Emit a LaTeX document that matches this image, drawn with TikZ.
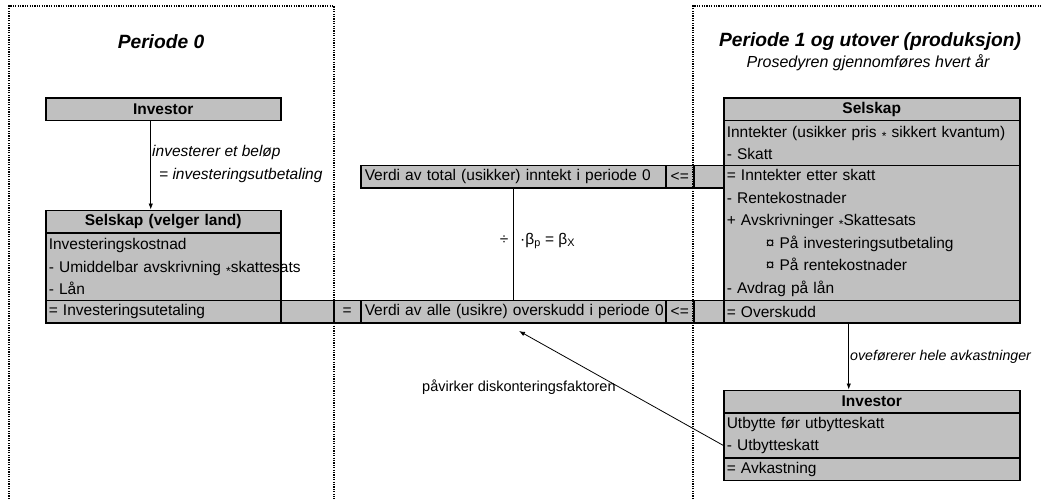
\documentclass[tikz,border=0pt]{standalone}
\usepackage{fontspec}
\setmainfont{Liberation Sans}
\usetikzlibrary{arrows.meta}
\definecolor{boxgray}{HTML}{C0C0C0}
\newcommand{\bodyfont}{\fontsize{15.5}{22.5}\selectfont}
\newcommand{\starop}{\raisebox{-3.2pt}{\fontsize{12}{12}\selectfont *}}

\begin{document}
\begin{tikzpicture}[x=1pt, y=-1pt]

\tikzstyle{every node} = [inner sep=0pt, font=\bodyfont]
\tikzstyle{box} = [draw, fill=boxgray, line width=1.5pt, anchor=north west, inner xsep=3pt, minimum height=22.5pt]
\tikzstyle{lbox} = [box, text width=229pt, align=left]
\tikzstyle{rbox} = [box, text width=290pt, align=left]
\tikzstyle{vbox} = [box, inner xsep=4pt, text width=297pt, align=left]
\tikzstyle{cell} = [box, inner xsep=0pt]
\tikzstyle{head} = [font=\bodyfont\bfseries, align=center]
\tikzstyle{title} = [font=\fontsize{19.2}{23}\selectfont\bfseries\itshape]
\tikzstyle{arr} = [-{Latex[length=6pt,width=4.5pt]}, line width=0.8pt]
\tikzstyle{frame} = [line width=1.2pt, dash pattern=on 1.2pt off 1.2pt]

\useasboundingbox (0,0) rectangle (1041,499);

\node[title] (p0) at (161,42) {Periode 0};
\node[title] (p1) at (870,42) {Periode 1 og utover (produksjon)};
\node[font=\fontsize{16}{19}\selectfont\itshape] (p1sub) at (868,63) {Prosedyren gjennomføres hvert år};

\node[lbox, head] (invL) at (45,97) {Investor};
\node[lbox, head] (selLh) at (45,209.5) {Selskap (velger land)};
\node[lbox, minimum height=67.5pt] (selLb) at (45,232) {Investeringskostnad\\\mbox{- Umiddelbar avskrivning \starop skattesats}\\- Lån};
\node[lbox] (selLs) at (45,299.5) {= Investeringsutetaling};
\node[cell, minimum width=53pt] (gapL) at (280,299.5) {};
\node[cell, minimum width=27pt] (eqL) at (333,299.5) {=};

\node[vbox] (verdiT) at (360,164.5) {\mbox{Verdi av total (usikker) inntekt i periode 0}};
\node[cell, minimum width=28pt] (ltT) at (665,164.5) {<=};
\node[cell, minimum width=30pt] (gapT) at (693,164.5) {};
\node[vbox] (verdiB) at (360,299.5) {\mbox{Verdi av alle (usikre) overskudd i periode 0}};
\node[cell, minimum width=28pt] (ltB) at (665,299.5) {<=};
\node[cell, minimum width=30pt] (gapB) at (693,299.5) {};

\node[rbox, head] (selRh) at (723,97) {Selskap};
\node[rbox, minimum height=45pt] (selRa) at (723,119.5) {Inntekter (usikker pris \starop{} sikkert kvantum)\\- Skatt};
\node[rbox, minimum height=135pt] (selRb) at (723,164.5) {= Inntekter etter skatt\\- Rentekostnader\\+ Avskrivninger \starop Skattesats\\\hspace*{39pt}¤ På investeringsutbetaling\\\hspace*{39pt}¤ På rentekostnader\\- Avdrag på lån};
\node[rbox] (selRs) at (723,299.5) {= Overskudd};

\node[rbox, head] (invRh) at (723,389.5) {Investor};
\node[rbox, minimum height=45pt] (invRb) at (723,412) {Utbytte før utbytteskatt\\- Utbytteskatt};
\node[rbox] (invRs) at (723,457) {= Avkastning};

\node[anchor=west, font=\bodyfont\itshape, align=left] (lblInv) at (152,164) {investerer et beløp\\\hspace*{7pt}= investeringsutbetaling};
\node (div) at (504,240) {÷};
\node[anchor=west] (beta) at (520,241) {·β\textsubscript{p} = β\textsubscript{X}};
\node[anchor=west, font=\fontsize{14.2}{17}\selectfont\itshape] (lblAvk) at (850,357) {oveførerer hele avkastninger};
\node[anchor=west, font=\fontsize{14.5}{17}\selectfont] (lblDisk) at (422,387) {påvirker diskonteringsfaktoren};
\coordinate (hit) at (519,331);

\draw[arr] ([xshift=-12.5pt]invL.south) -- ([xshift=-12.5pt]selLh.north);
\draw[line width=0.8pt] (verdiT.south) -- (verdiB.north);
\draw[arr] ([xshift=-23pt]selRs.south) -- ([xshift=-23pt]invRh.north);
\draw[arr] ([yshift=-10pt]invRb.west) -- (hit);

\draw[frame] (9,499) -- (9,6) -- (334,6) -- (334,499);
\draw[frame] (693,499) -- (693,6) -- (1041,6);
\end{tikzpicture}
\end{document}
